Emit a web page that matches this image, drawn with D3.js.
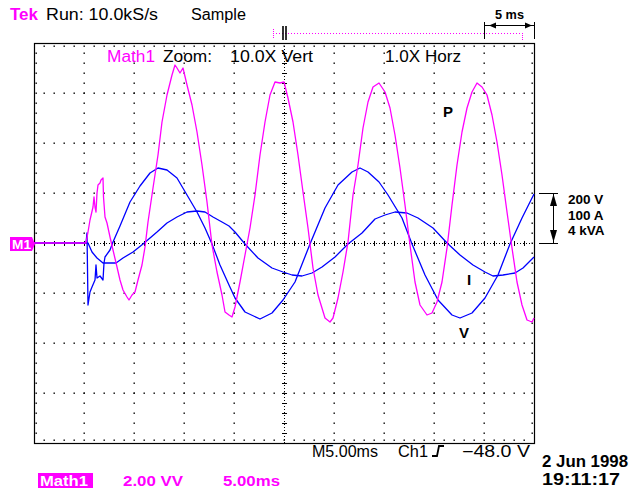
<!DOCTYPE html>
<html>
<head>
<meta charset="utf-8">
<script src="https://cdn.jsdelivr.net/npm/d3@7"></script>
<style>
  body { margin: 0; background: #fff; }
  svg { display: block; }
  text { font-family: "Liberation Sans", Arial, sans-serif; }
</style>
</head>
<body>
<div class="scope"></div>
<script>
// time in ms, values in volts / amps / kVA
var voltage = [
    [0, 0], [5.2, 0], [5.3, 40], [5.4, -248], [5.6, -196], [5.8, -176], [6.1, -148],
    [6.2, -88], [6.3, -140], [6.6, -132], [6.9, -148], [7.0, -80], [7.1, -56],
    [7.6, -28], [7.9, 4], [8.6, 68], [9.6, 164], [10.6, 228], [11.6, 280], [12.4, 300],
    [13.3, 292], [14.3, 260], [15.3, 192], [16.3, 124], [17.1, 60], [17.8, -4],
    [18.6, -88], [19.5, -168], [20.1, -220], [21.1, -276], [22.6, -304], [23.8, -280],
    [24.9, -228], [26.1, -156], [27.6, -4], [29.1, 140], [30.4, 232], [31.8, 284],
    [32.6, 300], [33.4, 284], [34.5, 244], [35.4, 192], [36.8, 100], [37.8, -4],
    [39.1, -128], [40.4, -228], [41.8, -288], [42.6, -300], [43.8, -280], [45.1, -220],
    [46.4, -128], [47.6, -4], [48.8, 100], [50.0, 196]
];

var current = [
    [0, 0], [5.4, 0], [5.8, -18], [6.3, -30], [6.9, -40], [8.2, -40], [8.9, -30],
    [9.9, -18], [10.9, -2], [12.3, 22], [13.3, 40], [14.3, 52], [15.3, 62], [16.3, 64],
    [17.1, 62], [17.9, 52], [18.8, 42], [19.5, 34], [20.1, 22], [21.1, -2], [22.4, -30],
    [23.8, -50], [24.9, -58], [25.8, -64], [26.8, -66], [27.8, -60], [28.8, -48],
    [30.1, -28], [31.4, -2], [32.8, 20], [34.1, 48], [35.1, 56], [36.1, 62], [37.3, 60],
    [38.4, 50], [39.9, 30], [41.3, 0], [42.6, -24], [43.9, -44], [45.1, -58], [45.9, -66],
    [46.9, -64], [48.1, -60], [48.9, -50], [49.7, -34], [50, -28]
];

var power = [
    [0, 0], [5.2, 0], [5.4, 0.88], [5.6, 1.84], [5.9, 2.88], [6.0, 3.68], [6.1, 2.88],
    [6.2, 2.48], [6.3, 4.0], [6.4, 4.64], [6.6, 4.8], [6.7, 5.04], [6.9, 5.2], [6.95, 3.68],
    [7.1, 2.08], [7.3, 1.6], [7.6, 0.48], [7.9, -0.56], [8.3, -1.92], [8.6, -2.96],
    [8.9, -3.76], [9.3, -4.32], [9.5, -4.56], [9.8, -4.16], [10.1, -3.92], [10.4, -2.96],
    [10.8, -1.76], [11.1, -0.32], [11.4, 1.68], [11.9, 4.4], [12.4, 7.04], [12.8, 9.68],
    [13.3, 11.84], [13.8, 13.44], [14.1, 14.24], [14.3, 14.0], [14.6, 13.6], [14.9, 14.0],
    [15.3, 12.64], [15.8, 11.04], [16.3, 8.88], [16.8, 6.24], [17.3, 3.28], [17.8, -0.16],
    [18.3, -2.32], [18.8, -4.16], [19.1, -5.52], [19.5, -5.76], [19.8, -5.92], [20.1, -5.12],
    [20.6, -3.12], [21.1, -0.96], [21.6, 1.2], [22.1, 3.84], [22.6, 7.04], [23.1, 9.68],
    [23.6, 11.84], [24.1, 12.88], [24.6, 12.8], [25.0, 12.88], [25.4, 11.6], [25.9, 9.68],
    [26.4, 7.04], [26.9, 4.08], [27.4, 1.2], [27.9, -2.0], [28.4, -4.16], [29.1, -6.0],
    [29.6, -6.32], [29.9, -6.0], [30.4, -4.4], [30.9, -2.32], [31.4, 0.08], [31.9, 3.84],
    [32.4, 6.24], [32.9, 9.2], [33.4, 11.28], [33.9, 12.48], [34.5, 12.8], [35.1, 12.08],
    [35.6, 10.8], [36.1, 8.64], [36.6, 6.0], [37.1, 3.04], [37.6, -0.16], [38.1, -3.12],
    [38.6, -4.96], [39.3, -5.76], [39.8, -5.6], [40.3, -4.72], [40.8, -3.12], [41.3, -0.4],
    [41.8, 3.04], [42.3, 6.24], [42.8, 8.88], [43.3, 10.8], [43.8, 12.08], [44.3, 12.8],
    [44.8, 12.48], [45.3, 11.84], [45.8, 10.24], [46.3, 8.08], [46.8, 5.44], [47.3, 2.48],
    [47.8, -0.4], [48.3, -3.12], [48.8, -4.96], [49.3, -6.16], [49.8, -6.32], [50, -6.0]
];

var scaleLabels = ["200 V", "100 A", "4 kVA"];
var headerLabels = ["Run: 10.0kS/s", "Sample"];
var zoomLabels = ["Zoom:", "10.0X Vert", "1.0X Horz"];
var footerLabels = ["M5.00ms", "Ch1", "\u221248.0 V"];
var dateLabels = ["2 Jun 1998", "19:11:17"];
var mathLabels = ["2.00 VV", "5.00ms"];

var MAGENTA = "#ff00ff",
    BLUE = "#0000ff";

var svg = d3
    .select(".scope")
    .append("svg")
    .attr("width", 631)
    .attr("height", 490);

svg.append("rect").attr("width", 631).attr("height", 490).attr("fill", "#fff");

// 10 x 8 divisions, 5 ms/div and 200 V, 100 A, 4 kVA per div
var xScale = d3.scaleLinear().domain([0, 50]).range([34, 534]);
var yV = d3.scaleLinear().domain([-800, 800]).range([443, 43]);
var yI = d3.scaleLinear().domain([-400, 400]).range([443, 43]);
var yP = d3.scaleLinear().domain([-16, 16]).range([443, 43]);

var grid = svg.append("g").attr("class", "graticule");

var majorT = d3.range(5, 50, 5).filter(function (t) { return t !== 25; });
var majorV = d3.range(-600, 601, 200).filter(function (v) { return v !== 0; });
var minorT = d3.range(1, 50, 1);
var minorV = d3.range(-760, 761, 40);

var dots = [];
majorT.forEach(function (t) {
    minorV.forEach(function (v) { dots.push([xScale(t), yV(v)]); });
});
majorV.forEach(function (v) {
    minorT.forEach(function (t) { dots.push([xScale(t), yV(v)]); });
});
// little ticks along the inside of the frame
minorT.forEach(function (t) {
    dots.push([xScale(t), yV(800) + 3]);
    dots.push([xScale(t), yV(-800) - 3]);
});
minorV.forEach(function (v) {
    dots.push([xScale(0) + 2, yV(v)]);
    dots.push([xScale(50) - 2, yV(v)]);
});

grid.selectAll("rect.dot")
    .data(dots)
    .enter()
    .append("rect")
    .attr("class", "dot")
    .attr("x", function (d) { return Math.round(d[0]) - 0.5; })
    .attr("y", function (d) { return Math.round(d[1]) - 0.5; })
    .attr("width", 1.4)
    .attr("height", 1.4)
    .attr("fill", "#000");

// center cross
grid.append("line")
    .attr("x1", xScale(0)).attr("x2", xScale(50))
    .attr("y1", yV(0) + 0.5).attr("y2", yV(0) + 0.5)
    .attr("stroke", "#000").attr("stroke-dasharray", "1,2");
grid.append("line")
    .attr("x1", xScale(25) + 0.5).attr("x2", xScale(25) + 0.5)
    .attr("y1", yV(800)).attr("y2", yV(-800))
    .attr("stroke", "#000").attr("stroke-dasharray", "1,2");

grid.selectAll("line.htick")
    .data(minorT)
    .enter()
    .append("line")
    .attr("class", "htick")
    .attr("x1", function (t) { return xScale(t) + 0.5; })
    .attr("x2", function (t) { return xScale(t) + 0.5; })
    .attr("y1", yV(0) - 2)
    .attr("y2", yV(0) + 3)
    .attr("stroke", "#000");
grid.selectAll("line.vtick")
    .data(minorV)
    .enter()
    .append("line")
    .attr("class", "vtick")
    .attr("y1", function (v) { return yV(v) + 0.5; })
    .attr("y2", function (v) { return yV(v) + 0.5; })
    .attr("x1", xScale(25) - 2)
    .attr("x2", xScale(25) + 3)
    .attr("stroke", "#000");

grid.append("rect")
    .attr("x", xScale(0) + 0.5)
    .attr("y", yV(800) + 0.5)
    .attr("width", xScale(50) - xScale(0))
    .attr("height", yV(-800) - yV(800))
    .attr("fill", "none")
    .attr("stroke", "#000")
    .attr("stroke-width", 1.2);

// traces
function trace(data, yScale, color) {
    svg.append("path")
        .datum(data)
        .attr("fill", "none")
        .attr("stroke", color)
        .attr("stroke-width", 1.3)
        .attr("stroke-linejoin", "round")
        .attr("d", d3.line()
            .x(function (d) { return xScale(d[0]); })
            .y(function (d) { return yScale(d[1]); }));
}
trace(voltage, yV, BLUE);
trace(current, yI, BLUE);
trace(power, yP, MAGENTA);

// header
function label(str, x, y, opts) {
    opts = opts || {};
    var t = svg.append("text")
        .attr("x", x)
        .attr("y", y)
        .attr("fill", opts.color || "#000")
        .attr("font-size", opts.size || 16)
        .attr("font-weight", opts.weight || "normal")
        .text(str);
    if (opts.len) t.attr("textLength", opts.len).attr("lengthAdjust", "spacingAndGlyphs");
    if (opts.anchor) t.attr("text-anchor", opts.anchor);
    return t;
}

label("Tek", 10, 20, {color: MAGENTA, weight: "bold", size: 16, len: 28});
label(headerLabels[0], 46, 20, {len: 112});
label(headerLabels[1], 191, 20, {len: 55});

label("Math1", 107, 62, {color: MAGENTA, len: 48});
label(zoomLabels[0], 163, 62, {len: 49});
label(zoomLabels[1], 230, 62, {len: 83});
label(zoomLabels[2], 385, 62, {len: 76});

// trigger position marker
var topY = 33.5;
svg.append("line")
    .attr("x1", 273).attr("x2", 522).attr("y1", topY).attr("y2", topY)
    .attr("stroke", MAGENTA).attr("stroke-dasharray", "1,2");
svg.append("line")
    .attr("x1", 273.5).attr("x2", 273.5).attr("y1", 29).attr("y2", 38)
    .attr("stroke", MAGENTA).attr("stroke-dasharray", "1,1");
svg.append("line")
    .attr("x1", 522.5).attr("x2", 522.5).attr("y1", 33).attr("y2", 41)
    .attr("stroke", MAGENTA).attr("stroke-dasharray", "1,1");
[283, 286].forEach(function (x) {
    svg.append("line")
        .attr("x1", x).attr("x2", x).attr("y1", 26).attr("y2", 40)
        .attr("stroke", "#000").attr("stroke-width", 1.6);
});

// 5 ms cursor bracket
var bx0 = xScale(45), bx1 = xScale(50);
[bx0, bx1].forEach(function (x) {
    svg.append("line")
        .attr("x1", x + 0.5).attr("x2", x + 0.5).attr("y1", 22).attr("y2", 39)
        .attr("stroke", "#000");
});
svg.append("line")
    .attr("x1", bx0).attr("x2", bx1).attr("y1", 25.5).attr("y2", 25.5)
    .attr("stroke", "#000");
svg.append("path")
    .attr("d", "M" + (bx0 + 5) + ",25.5 L" + (bx0 + 12) + ",22.5 L" + (bx0 + 12) + ",28.5 Z")
    .attr("fill", "#000");
svg.append("path")
    .attr("d", "M" + (bx1 - 2) + ",25.5 L" + (bx1 - 9) + ",22.5 L" + (bx1 - 9) + ",28.5 Z")
    .attr("fill", "#000");
label("5 ms", 495, 19, {size: 12, weight: "bold", len: 29});

// volts / amps / kVA per division
var sx = 553.5, sTop = yV(200), sBot = yV(0);
svg.append("line").attr("x1", sx).attr("x2", sx).attr("y1", sTop).attr("y2", sBot)
    .attr("stroke", "#000");
[sTop, sBot].forEach(function (y) {
    svg.append("line").attr("x1", 539).attr("x2", 558).attr("y1", y + 0.5).attr("y2", y + 0.5)
        .attr("stroke", "#000");
});
svg.append("path")
    .attr("d", "M" + sx + "," + (sTop + 1) + " L" + (sx - 3.5) + "," + (sTop + 13) + " L" + (sx + 3.5) + "," + (sTop + 13) + " Z")
    .attr("fill", "#000");
svg.append("path")
    .attr("d", "M" + sx + "," + (sBot - 1) + " L" + (sx - 3.5) + "," + (sBot - 13) + " L" + (sx + 3.5) + "," + (sBot - 13) + " Z")
    .attr("fill", "#000");
svg.selectAll("text.scale")
    .data(scaleLabels)
    .enter()
    .append("text")
    .attr("class", "scale")
    .attr("x", 568)
    .attr("y", function (d, i) { return 204 + i * 15.5; })
    .attr("font-size", 13.5)
    .attr("font-weight", "bold")
    .attr("fill", "#000")
    .text(function (d) { return d; });

// trace labels
label("P", 443, 117, {size: 15, weight: "bold"});
label("I", 467, 285, {size: 15, weight: "bold"});
label("V", 459, 338, {size: 15, weight: "bold"});

// M1 ground marker
svg.append("path")
    .attr("d", "M10,237 L32,237 L35,244 L32,251 L10,251 Z")
    .attr("fill", MAGENTA);
label("M1", 12, 249, {color: "#fff", size: 12, weight: "bold", len: 19});

// footer
label(footerLabels[0], 312, 457, {len: 66});
label(footerLabels[1], 398, 457, {len: 30});
svg.append("path")
    .attr("d", "M432,456 L437,456 L439,446 L444,446")
    .attr("fill", "none").attr("stroke", "#000").attr("stroke-width", 1.8);
label(footerLabels[2], 462, 457, {len: 68});

label(dateLabels[0], 542, 467, {size: 16, weight: "bold", len: 86});
label(dateLabels[1], 542, 485, {size: 16, weight: "bold", len: 78});

svg.append("rect").attr("x", 38).attr("y", 473).attr("width", 55).attr("height", 15)
    .attr("fill", MAGENTA);
label("Math1", 40, 486, {color: "#fff", size: 15, weight: "bold", len: 48});
label(mathLabels[0], 123, 486, {color: MAGENTA, size: 15, weight: "bold", len: 60});
label(mathLabels[1], 223, 486, {color: MAGENTA, size: 15, weight: "bold", len: 57});
</script>
</body>
</html>
